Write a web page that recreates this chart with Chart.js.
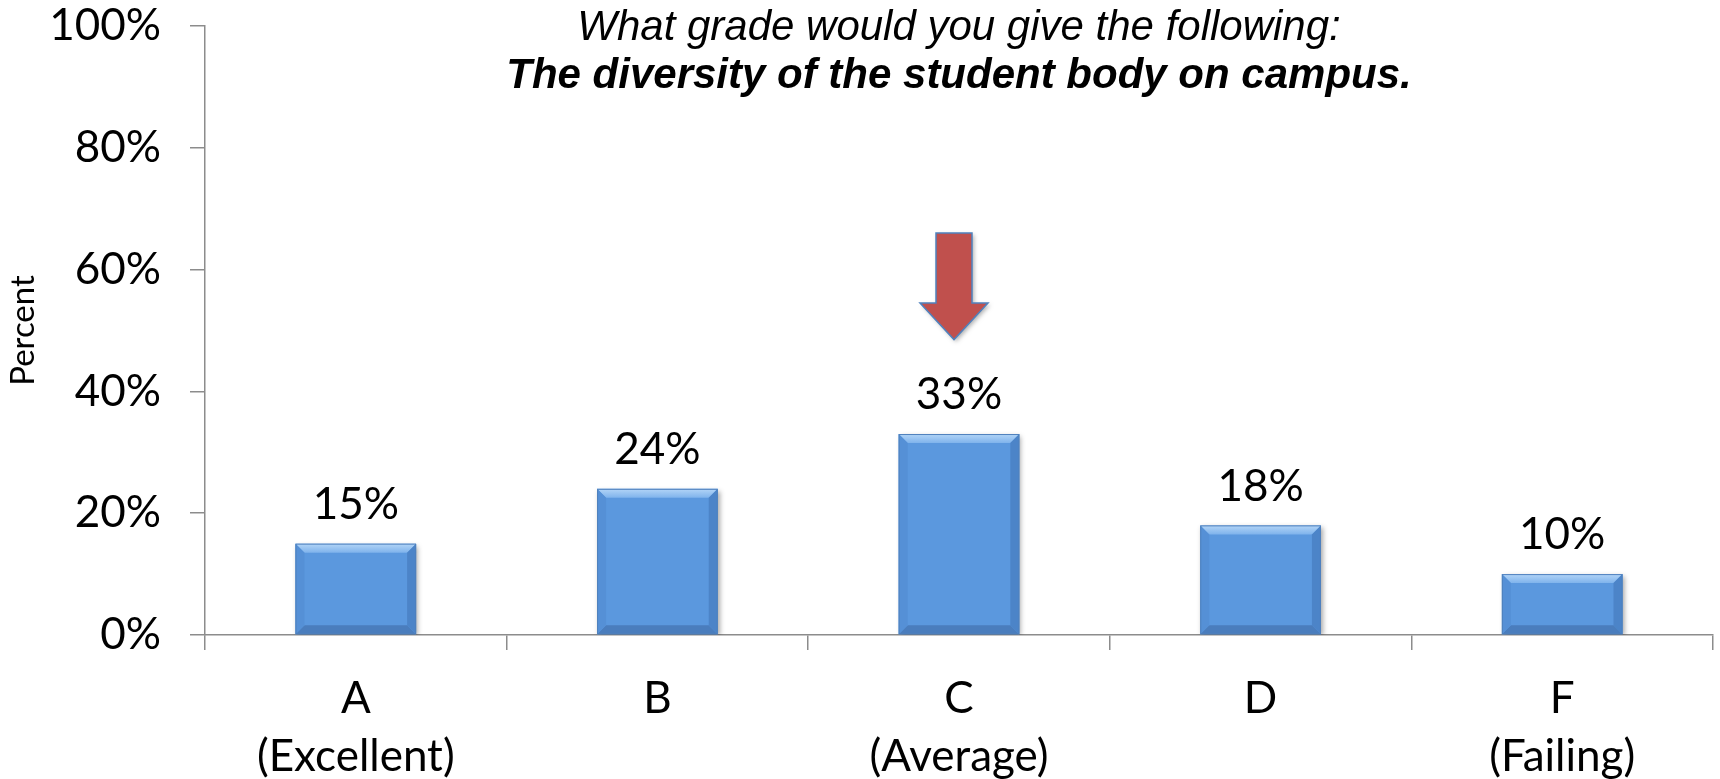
<!DOCTYPE html>
<html>
<head>
<meta charset="utf-8">
<title>Diversity of the student body</title>
<script src="https://cdn.jsdelivr.net/npm/chart.js@4/dist/chart.umd.min.js"></script>
<style>
  html, body { margin: 0; padding: 0; background: #fff; }
  #wrap { width: 1720px; height: 779px; }
</style>
</head>
<body>
<div id="wrap"><canvas id="grade-chart"></canvas></div>
<script>
// data
const grades = [["A", "(Excellent)"], ["B", ""], ["C", "(Average)"], ["D", ""], ["F", "(Failing)"]];
const percents = [15, 24, 33, 18, 10];
const yTicks = [0, 20, 40, 60, 80, 100];
const titleLines = ["What grade would you give the following:", "The diversity of the student body on campus."];
const arrowGrade = 2;               // arrow points at "C"
const arrowSpan = [66, 54.5, 48.5]; // top of shaft, base of head, tip (percent)

const axisGray = "#8c8c8c";

const slideDecor = {
  id: "slideDecor",
  beforeDatasetsDraw: (chart) => {
    const ctx = chart.ctx;
    ctx.save();
    ctx.shadowColor = "rgba(0,0,0,0.35)";
    ctx.shadowBlur = 5;
    ctx.shadowOffsetX = 2;
    ctx.shadowOffsetY = 2;
  },
  afterDatasetsDraw: (chart) => {
    const ctx = chart.ctx;
    ctx.restore();
    const meta = chart.getDatasetMeta(0);
    const b = 9;

    // bevel on each bar
    meta.data.forEach((bar, i) => {
      const l = bar.x - bar.width / 2, r = bar.x + bar.width / 2;
      const t = bar.y, btm = bar.base;
      const poly = (pts, fill) => {
        ctx.beginPath();
        ctx.moveTo(pts[0][0], pts[0][1]);
        for (let k = 1; k < pts.length; k++) ctx.lineTo(pts[k][0], pts[k][1]);
        ctx.closePath();
        ctx.fillStyle = fill;
        ctx.fill();
      };
      const topGrad = ctx.createLinearGradient(0, t, 0, t + b);
      topGrad.addColorStop(0, "#b3d5f7");
      topGrad.addColorStop(1, "#7fb3ec");
      poly([[l, t], [r, t], [r - b, t + b], [l + b, t + b]], topGrad);
      poly([[l, btm], [r, btm], [r - b, btm - b], [l + b, btm - b]], "#4a7dbd");
      poly([[l, t], [l + b, t + b], [l + b, btm - b], [l, btm]], "#5590d6");
      poly([[r, t], [r - b, t + b], [r - b, btm - b], [r, btm]], "#4c84c8");
      ctx.strokeStyle = "#4f81bd";
      ctx.lineWidth = 1;
      ctx.strokeRect(l + 0.5, t + 0.5, bar.width - 1, btm - t - 1);

      // value label
      ctx.fillStyle = "#000";
      ctx.font = "44px Lato";
      ctx.textAlign = "center";
      ctx.textBaseline = "middle";
      ctx.fillText(percents[i] + "%", bar.x, t - 39);
    });

    // red arrow over "C"
    const xs = chart.scales.x, ys = chart.scales.y;
    const cx = xs.getPixelForValue(arrowGrade) - 5;
    const yTop = ys.getPixelForValue(arrowSpan[0]);
    const yHead = ys.getPixelForValue(arrowSpan[1]);
    const yTip = ys.getPixelForValue(arrowSpan[2]);
    ctx.save();
    ctx.shadowColor = "rgba(0,0,0,0.3)";
    ctx.shadowBlur = 4;
    ctx.shadowOffsetX = 2;
    ctx.shadowOffsetY = 2;
    ctx.beginPath();
    ctx.moveTo(cx - 18, yTop);
    ctx.lineTo(cx + 18, yTop);
    ctx.lineTo(cx + 18, yHead);
    ctx.lineTo(cx + 34, yHead);
    ctx.lineTo(cx, yTip);
    ctx.lineTo(cx - 34, yHead);
    ctx.lineTo(cx - 18, yHead);
    ctx.closePath();
    ctx.fillStyle = "#c0504d";
    ctx.fill();
    ctx.restore();
    ctx.strokeStyle = "#4f81bd";
    ctx.lineWidth = 1.5;
    ctx.stroke();

    // title, centred over the plot
    const mid = (chart.chartArea.left + chart.chartArea.right) / 2;
    ctx.fillStyle = "#000";
    ctx.textAlign = "center";
    ctx.textBaseline = "alphabetic";
    ctx.font = "italic 42px 'Liberation Sans'";
    ctx.fillText(titleLines[0], mid, 40);
    ctx.font = "italic bold 42px 'Liberation Sans'";
    ctx.fillText(titleLines[1], mid, 88);
  },
};

new Chart(document.getElementById("grade-chart"), {
  type: "bar",
  data: {
    labels: grades,
    datasets: [{
      label: "Percent",
      data: percents,
      backgroundColor: "#5b98de",
      borderWidth: 0,
      barPercentage: 0.4,
      categoryPercentage: 1,
    }],
  },
  options: {
    responsive: true,
    maintainAspectRatio: false,
    animation: false,
    layout: { padding: { top: 26, right: 7, left: 0, bottom: 0 } },
    scales: {
      x: {
        grid: { offset: true, drawOnChartArea: false, tickLength: 15, color: axisGray, lineWidth: 1.5 },
        border: { color: axisGray, width: 1.5 },
        ticks: { font: { family: "Lato", size: 44, lineHeight: 1.32 }, color: "#000", padding: 20, maxRotation: 0, autoSkip: false },
        afterFit: (scale) => { scale.height = 144; },
      },
      y: {
        min: 0,
        max: 100,
        afterBuildTicks: (scale) => { scale.ticks = yTicks.map(v => ({ value: v })); },
        grid: { drawOnChartArea: false, tickLength: 15, color: axisGray, lineWidth: 1.5 },
        border: { color: axisGray, width: 1.5 },
        ticks: { font: { family: "Lato", size: 44, lineHeight: 1.1 }, color: "#000", padding: 29, callback: (v) => v + "%" },
        title: { display: true, text: "Percent", color: "#000", font: { family: "Lato", size: 33 }, padding: { top: 4, bottom: 0 } },
        afterFit: (scale) => {
          scale.width = 205;
          scale.paddingTop = 0;
          scale.paddingBottom = 0;
        },
      },
    },
    plugins: {
      legend: { display: false },
      tooltip: { enabled: false },
    },
  },
  plugins: [slideDecor],
});
</script>
</body>
</html>
